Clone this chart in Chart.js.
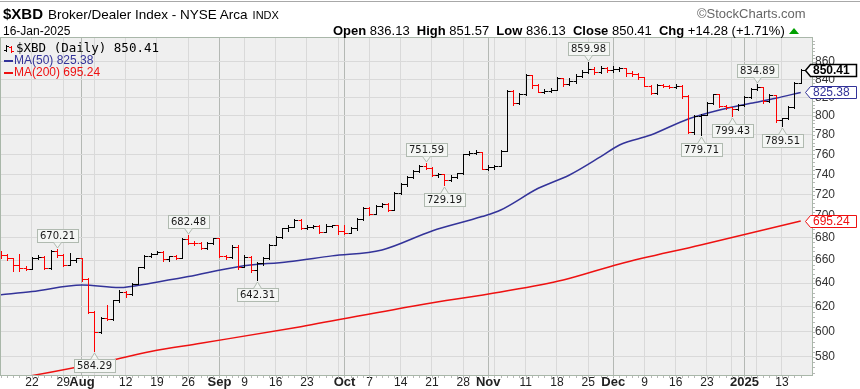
<!DOCTYPE html>
<html>
<head>
<meta charset="utf-8">
<title>$XBD Broker/Dealer Index</title>
<script src="https://cdn.jsdelivr.net/npm/chart.js@4.4.1/dist/chart.umd.min.js"></script>
<style>
  html, body { margin: 0; padding: 0; background: #fff; }
  #wrap { position: relative; width: 860px; height: 389px; overflow: hidden; font-family: "Liberation Sans", Arial, sans-serif; }
  #chart { position: absolute; left: 0; top: 0; }
  .txt { position: absolute; white-space: nowrap; line-height: 1; color: #000; }
  #topRule { position: absolute; left: 0; top: 1px; width: 860px; height: 1px; background: #a8a8a8; }
  .dash { display: inline-block; width: 9px; height: 2px; vertical-align: middle; margin-right: 1px; }
  .upArrow { display: inline-block; width: 0; height: 0; border-left: 5px solid transparent; border-right: 5px solid transparent; border-bottom: 6px solid #00a000; margin-left: 4px; vertical-align: 1px; }
</style>
</head>
<body>
<div id="wrap">
  <canvas id="chart" width="860" height="389"></canvas>
  <div id="topRule"></div>
  <div class="txt" style="left:3px; top:6px; font-size:15px;"><b>$XBD</b><span style="font-size:13.5px; margin-left:5px;">Broker/Dealer Index - NYSE Arca</span><span style="font-size:11px; margin-left:5px;">INDX</span></div>
  <div class="txt" style="left:697px; top:7px; font-size:13px; color:#666;">&copy;StockCharts.com</div>
  <div class="txt" style="left:3px; top:25px; font-size:12px;">16-Jan-2025</div>
  <div class="txt" style="left:333px; top:24px; font-size:13px;"><b>Open</b> 836.13&nbsp; <b>High</b> 851.57&nbsp; <b>Low</b> 836.13&nbsp; <b>Close</b> 850.41&nbsp; <b>Chg</b> +14.28 (+1.71%)<span class="upArrow"></span></div>
  <div class="txt" style="left:16px; top:42px; font-family:'DejaVu Sans Mono', monospace; font-size:12.5px;">$XBD (Daily) 850.41</div>
  <div class="txt" style="left:4px; top:54px; font-size:12px; color:#333399;"><span class="dash" style="background:#333399"></span>MA(50) 825.38</div>
  <div class="txt" style="left:4px; top:66px; font-size:12px; color:#ee1111;"><span class="dash" style="background:#ee1111"></span>MA(200) 695.24</div>
</div>
<script>
// one entry per session, Mon 15-Jul-2024 .. Thu 16-Jan-2025
const opens = [
  666, 664.5, 661.5, 656, 653, 652.5, 662, 662.5, 653, 668,
  664.5, 656, 660, 661.5, 643.5, 616, 600, 611, 610.5, 625.5,
  632.5, 630.5, 639.5, 653.5, 664, 665.5, 667.5, 660.5, 663.5, 662,
  678.8, 675.6, 674.8, 670.8, 675.6, 679.4, 663.5, 662.5, 671.8, 654,
  663, 651.5, 657, 661.8, 673.4, 681, 688.5, 690, 696.5, 688.5,
  690, 690.5, 685.5, 690.8, 691.2, 686, 684.5, 688.5, 697, 707.4,
  702, 709.7, 711.5, 706, 722, 730.3, 737, 743, 748.5, 746.3,
  739, 740, 734.4, 737.7, 740.8, 760, 761.5, 762, 745.7, 747,
  748.5, 763.3, 826.9, 813.5, 824, 844.5, 834, 826.2, 827.2, 828.5,
  841, 834.5, 838, 844, 848.5, 852, 848, 853, 850, 852,
  852.5, 846.5, 845.5, 842, 833, 824.5, 834, 832.5, 831.5, 833,
  821, 783, 800, 801, 813.9, 823.4, 811, 809.4, 807.6, 811.7,
  820, 829, 831, 815.7, 822.8, 795.6, 797.2, 809.4, 836.13
];
const highs = [
  668, 665, 662, 665, 654.5, 662.5, 664.5, 664, 669, 670.21,
  665.5, 666, 662, 662, 644, 617, 612, 622, 626, 634,
  633, 640, 654, 664.5, 666.5, 668, 668, 664, 664.5, 679.5,
  682.48, 677, 676.5, 676.5, 680, 680, 664.5, 673, 673, 664.5,
  663.5, 658, 662.5, 674.5, 681.5, 689, 692, 697.5, 697, 691.5,
  691.5, 692, 692.5, 692, 692, 692, 689.5, 698, 708, 708,
  710.5, 712.5, 712.5, 722.5, 731, 738, 744, 749.5, 751.59, 747,
  741.5, 740.5, 739, 741.5, 760.5, 763, 764, 762.5, 749, 749.5,
  764, 828, 827.5, 824.5, 845.5, 845, 835, 829, 830.5, 842,
  841.5, 841.5, 846, 850, 859.98, 853.5, 854.5, 853.5, 854.5, 854,
  852.5, 849, 847, 843, 834, 835, 835, 834, 834.5, 833.5,
  823, 801, 802, 814.5, 824, 824, 812, 810, 812.5, 821,
  830, 834.89, 831.5, 823.5, 823, 798, 810.5, 837, 851.57
];
const lows = [
  662, 660, 650.5, 650.5, 651, 652, 660.5, 652, 652.5, 663,
  654.5, 655.5, 658.5, 641.5, 615, 584.29, 599, 609.5, 609, 624.5,
  628.5, 630, 639, 653, 662.5, 665, 659.5, 659, 661, 661.5,
  674.5, 673.5, 670, 670, 674.5, 662.5, 661, 661.5, 652.5, 653.5,
  649.5, 642.31, 656, 661, 673, 680, 686, 689.5, 687.5, 687.5,
  688.5, 684.5, 685, 689.5, 683.5, 683.5, 684, 687, 696, 701,
  701.5, 708.5, 704.5, 705.5, 721, 729, 736, 742, 745, 738,
  737.5, 729.19, 733.5, 736.5, 740, 759, 760, 745, 744.5, 745,
  748, 763, 811.5, 812.5, 823, 830, 825.5, 825, 825.5, 828,
  833, 833.5, 836, 843, 847.5, 846, 847, 848.5, 848.5, 849,
  844, 843.5, 840.5, 832, 823.5, 824, 831.5, 830.5, 830, 819.5,
  782, 781, 779.71, 800.5, 813, 810, 807, 799.43, 806, 811,
  819, 828, 814, 815, 793.8, 789.51, 796.5, 808.5, 836.13
];
const closes = [
  664.5, 661.5, 656, 653, 652.5, 662, 662.5, 653, 668, 664.5,
  656, 660, 661.5, 643.5, 616, 600, 611, 610.5, 625.5, 632.5,
  630.5, 639.5, 653.5, 664, 665.5, 667.5, 660.5, 663.5, 662, 678.8,
  675.6, 674.8, 670.8, 675.6, 679.4, 663.5, 662.5, 671.8, 654, 663,
  651.5, 657, 661.8, 673.4, 681, 688.5, 690, 696.5, 688.5, 690,
  690.5, 685.5, 690.8, 691.2, 686, 684.5, 688.5, 697, 707.4, 702,
  709.7, 711.5, 706, 722, 730.3, 737, 743, 748.5, 746.3, 739,
  740, 734.4, 737.7, 740.8, 760, 761.5, 762, 745.7, 747, 748.5,
  763.3, 826.9, 813.5, 824, 844.5, 834, 826.2, 827.2, 828.5, 841,
  834.5, 838, 844, 848.5, 852, 848, 853, 850, 852, 852.5,
  846.5, 845.5, 842, 833, 824.5, 834, 832.5, 831.5, 833, 821,
  783, 800, 801, 813.9, 823.4, 811, 809.4, 807.6, 811.7, 820,
  829, 831, 815.7, 822.8, 795.6, 797.2, 809.4, 836.13, 850.41
];

// moving averages, read at a few sessions (session number as above)
const ma50Day = [0, 5, 13, 19, 24, 30, 38, 46, 53, 61, 69, 77, 80, 86, 91, 96, 99, 104, 110, 115, 120, 124, 128];
const ma50 = [630.2, 632.8, 638.5, 636.2, 640.0, 645.6, 654.2, 658.6, 663.7, 669.0, 686.1, 699.4, 705.6, 726.3, 739.3, 757.6, 769.5, 779.8, 796.7, 806.3, 813.5, 819.0, 825.38];
const ma200Day = [0, 3, 18, 24, 32, 48, 67, 80, 90, 99, 112, 128];
const ma200 = [561.5, 564.0, 577.7, 584.3, 590.7, 603.9, 621.7, 632.5, 642.7, 656.6, 673.4, 695.24];

// date axis
const tickDay = [5, 10, 13, 15, 20, 25, 30, 35, 39, 44, 49, 54, 55, 59, 64, 69, 74, 78, 79, 84, 89, 94, 98, 103, 108, 113, 117, 119, 121, 125];
const tickText = ['22', '29', 'Aug', '', '12', '19', '26', 'Sep', '9', '16', '23', '', 'Oct', '7', '14', '21', '28', 'Nov', '', '11', '18', '25', 'Dec', '9', '16', '23', '', '2025', '', '13'];
const monthText = ['Aug', 'Sep', 'Oct', 'Nov', 'Dec', '2025'];

// price axis
const priceTicks = [580, 600, 620, 640, 660, 680, 700, 720, 740, 760, 780, 800, 820, 840, 860];
const minorPriceStep = 4;

// labelled highs and lows
const noteDay = [9, 15, 30, 41, 68, 71, 94, 112, 117, 121, 125];
const noteValue = [670.21, 584.29, 682.48, 642.31, 751.59, 729.19, 859.98, 779.71, 799.43, 834.89, 789.51];
const noteBelow = [false, true, false, true, false, true, false, true, true, false, true];

const BLUE = '#333399';
const RED = '#ee1111';
const isMonth = i => monthText.includes(tickText[i]);

function drawNote(ctx, px, tipY, below, text) {
    ctx.font = '10px "DejaVu Sans", sans-serif';
    const w = Math.round(ctx.measureText(text).width) + 6;
    const h = 13;
    const bx = Math.round(px - w / 2) + 0.5;
    const by = below ? tipY + 6 + 0.5 : tipY - 5 - h - 0.5;
    const edge = below ? by : by + h;
    ctx.lineWidth = 1;
    ctx.fillStyle = '#f4f6f4';
    ctx.strokeStyle = '#b0bab0';
    ctx.fillRect(bx, by, w, h);
    ctx.strokeRect(bx, by, w, h);
    ctx.beginPath();
    ctx.moveTo(px - 4, edge);
    ctx.lineTo(px, tipY);
    ctx.lineTo(px + 4, edge);
    ctx.fill();
    ctx.stroke();
    ctx.fillStyle = '#1a1a1a';
    ctx.textAlign = 'center';
    ctx.textBaseline = 'middle';
    ctx.fillText(text, px, by + h / 2 + 0.5);
}

function drawTag(ctx, area, yPix, text, color, bold) {
    const y0 = Math.round(yPix) + 0.5;
    const tip = area.right - 6.5, left = area.right - 1.5, right = area.right + 44.5, half = 6;
    ctx.beginPath();
    ctx.moveTo(tip, y0);
    ctx.lineTo(left, y0 - half);
    ctx.lineTo(right, y0 - half);
    ctx.lineTo(right, y0 + half);
    ctx.lineTo(left, y0 + half);
    ctx.closePath();
    ctx.fillStyle = '#fff';
    ctx.fill();
    ctx.strokeStyle = color;
    ctx.lineWidth = bold ? 1.5 : 1;
    ctx.stroke();
    ctx.fillStyle = color;
    ctx.font = (bold ? 'bold ' : '') + '12px "Liberation Sans", Arial, sans-serif';
    ctx.textAlign = 'left';
    ctx.textBaseline = 'middle';
    ctx.fillText(text, area.right + 1, y0 + 0.5);
}

const ohlcPlugin = {
    id: 'ohlc',
    beforeDraw(chart) {
        const { ctx, chartArea: a } = chart;
        ctx.save();
        ctx.fillStyle = '#fff';
        ctx.fillRect(0, 0, chart.width, chart.height);
        ctx.fillStyle = '#efefef';
        ctx.fillRect(a.left, a.top, a.right - a.left, a.bottom - a.top);
        ctx.restore();
    },
    afterDatasetsDraw(chart) {
        const { ctx, chartArea: a, scales: { x, y } } = chart;
        ctx.save();
        ctx.beginPath();
        ctx.rect(a.left, a.top, a.right - a.left, a.bottom - a.top);
        ctx.clip();
        ctx.lineWidth = 1;
        closes.forEach((c, k) => {
            const prev = k > 0 ? closes[k - 1] : opens[0];
            ctx.strokeStyle = c >= prev ? '#000' : '#ff0000';
            const px = Math.round(x.getPixelForValue(k)) + 0.5;
            const yh = Math.round(y.getPixelForValue(highs[k]));
            const yl = Math.round(y.getPixelForValue(lows[k]));
            const yo = Math.round(y.getPixelForValue(opens[k])) + 0.5;
            const yc = Math.round(y.getPixelForValue(c)) + 0.5;
            ctx.beginPath();
            ctx.moveTo(px, yh);
            ctx.lineTo(px, Math.max(yl + 1, yh + 1));
            ctx.moveTo(px - 3, yo);
            ctx.lineTo(px, yo);
            ctx.moveTo(px, yc);
            ctx.lineTo(px + 3.5, yc);
            ctx.stroke();
        });
        ctx.restore();
    },
    afterDraw(chart) {
        const { ctx, chartArea: a, scales: { x, y } } = chart;
        ctx.save();

        // little day ticks under the plot
        ctx.strokeStyle = '#b8b8b8';
        ctx.lineWidth = 1;
        ctx.beginPath();
        closes.forEach((c, k) => {
            const px = Math.round(x.getPixelForValue(k)) + 0.5;
            if (px < a.left || px > a.right) return;
            ctx.moveTo(px, a.bottom + 1);
            ctx.lineTo(px, a.bottom + 3);
        });
        // little price ticks beside the plot
        for (let v = priceTicks[0] - 12; v <= priceTicks[priceTicks.length - 1] + 24; v += minorPriceStep) {
            const py = Math.round(y.getPixelForValue(v)) + 0.5;
            if (py < a.top || py > a.bottom) continue;
            ctx.moveTo(a.right + 1, py);
            ctx.lineTo(a.right + 3, py);
        }
        ctx.stroke();

        // plot frame
        ctx.strokeStyle = '#a9b7a9';
        ctx.strokeRect(a.left - 0.5, a.top - 0.5, a.right - a.left + 1, a.bottom - a.top + 1);

        // legend glyph
        ctx.strokeStyle = '#000';
        ctx.beginPath();
        ctx.moveTo(6.5, 45); ctx.lineTo(6.5, 52);
        ctx.moveTo(4, 50.5); ctx.lineTo(6.5, 50.5);
        ctx.moveTo(6.5, 46.5); ctx.lineTo(9, 46.5);
        ctx.stroke();
        ctx.strokeStyle = '#ff0000';
        ctx.beginPath();
        ctx.moveTo(11.5, 46); ctx.lineTo(11.5, 53);
        ctx.moveTo(9, 47.5); ctx.lineTo(11.5, 47.5);
        ctx.moveTo(11.5, 51.5); ctx.lineTo(14, 51.5);
        ctx.stroke();

        // labelled highs / lows
        noteDay.forEach((k, j) => {
            const px = Math.round(x.getPixelForValue(k)) + 0.5;
            const yv = Math.round(y.getPixelForValue(noteValue[j]));
            const tipY = noteBelow[j] ? yv + 2 : yv - 1;
            drawNote(ctx, px, tipY, noteBelow[j], noteValue[j].toFixed(2));
        });

        // last-value tags on the price axis
        drawTag(ctx, a, y.getPixelForValue(ma200[ma200.length - 1]), ma200[ma200.length - 1].toFixed(2), RED, false);
        drawTag(ctx, a, y.getPixelForValue(ma50[ma50.length - 1]), ma50[ma50.length - 1].toFixed(2), BLUE, false);
        drawTag(ctx, a, y.getPixelForValue(closes[closes.length - 1]), closes[closes.length - 1].toFixed(2), '#000', true);

        ctx.restore();
    }
};

Chart.defaults.font.family = "'Liberation Sans', Arial, sans-serif";

const chart = new Chart(document.getElementById('chart'), {
    type: 'line',
    data: {
        datasets: [
            {
                label: 'MA(200)',
                data: ma200Day.map((d, j) => ({ x: d, y: ma200[j] })),
                borderColor: RED,
                borderWidth: 1.5,
                pointRadius: 0,
                cubicInterpolationMode: 'monotone'
            },
            {
                label: 'MA(50)',
                data: ma50Day.map((d, j) => ({ x: d, y: ma50[j] })),
                borderColor: BLUE,
                borderWidth: 1.5,
                pointRadius: 0,
                cubicInterpolationMode: 'monotone'
            }
        ]
    },
    options: {
        responsive: false,
        animation: false,
        devicePixelRatio: 1,
        events: [],
        layout: { padding: { top: 38, left: 1, right: 0, bottom: 0 } },
        plugins: {
            legend: { display: false },
            tooltip: { enabled: false },
            title: { display: false }
        },
        scales: {
            x: {
                type: 'linear',
                min: 0.04,
                max: 129.8,
                afterBuildTicks: s => { s.ticks = tickDay.map(v => ({ value: v })); },
                afterFit: s => { s.height = 14; },
                border: { display: false },
                grid: {
                    drawTicks: false,
                    color: c => isMonth(c.index) ? '#b4b8b4' : '#d9d9d9'
                },
                ticks: {
                    autoSkip: false,
                    maxRotation: 0,
                    padding: 0,
                    color: '#222',
                    font: c => isMonth(c.index)
                        ? { family: "'Liberation Sans', Arial, sans-serif", size: 13, weight: 'bold' }
                        : { family: "'Liberation Sans', Arial, sans-serif", size: 12 },
                    callback: (v, i) => tickText[i]
                }
            },
            y: {
                type: 'logarithmic',
                position: 'right',
                min: 566.2,
                max: 887.5,
                afterBuildTicks: s => { s.ticks = priceTicks.map(v => ({ value: v })); },
                afterFit: s => { s.width = 48; },
                border: { display: false },
                grid: { drawTicks: false, color: '#d9d9d9' },
                ticks: {
                    autoSkip: false,
                    padding: 3,
                    crossAlign: 'near',
                    color: '#333',
                    font: { size: 12 },
                    callback: v => String(v)
                }
            }
        }
    },
    plugins: [ohlcPlugin]
});
</script>
</body>
</html>
